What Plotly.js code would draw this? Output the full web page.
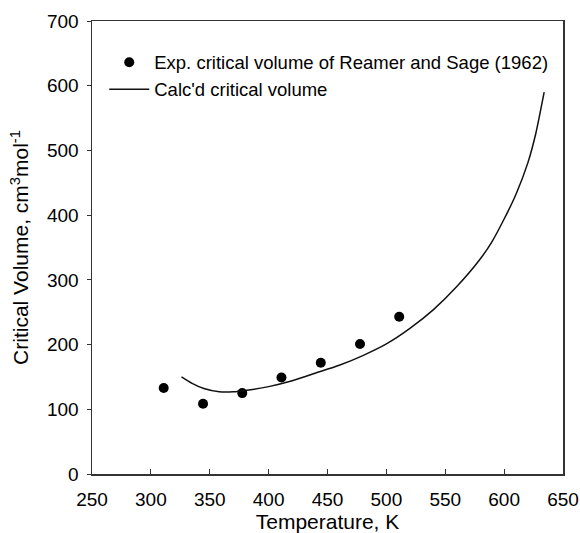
<!DOCTYPE html>
<html>
<head>
<meta charset="utf-8">
<script src="https://cdn.plot.ly/plotly-3.0.1.min.js"></script>
<style>html,body{margin:0;padding:0;background:#fff;}#chart{width:580px;height:533px;}</style>
</head>
<body>
<div id="chart"></div>
<script>
// Experimental critical volume (Reamer and Sage, 1962)
const expT = [310.9, 344.3, 377.6, 410.9, 444.3, 477.6, 510.9];
const expV = [133, 108.5, 125, 149, 172, 201, 243];

// Calculated critical volume curve
const calcT = [326, 335, 345, 358, 370, 380, 400, 420, 440, 460, 480, 500, 520, 540, 560, 580, 590, 600, 610, 620, 627, 634];
const calcV = [150, 140, 132, 127, 127, 129, 135, 144, 156, 168, 183, 201, 225, 254, 290, 333, 360, 394, 432, 480, 527, 590];

const xTicks = [250, 300, 350, 400, 450, 500, 550, 600, 650];
const yTicks = [0, 100, 200, 300, 400, 500, 600, 700];

const fontFam = 'Arial, "Liberation Sans", Helvetica, sans-serif';

const traces = [
  {
    x: expT, y: expV, type: 'scatter', mode: 'markers',
    name: 'Exp. critical volume of Reamer and Sage (1962)',
    marker: {color: '#000', size: 10, symbol: 'circle'}
  },
  {
    x: calcT, y: calcV, type: 'scatter', mode: 'lines',
    name: "Calc'd critical volume",
    line: {color: '#111', width: 1.5, shape: 'spline', smoothing: 0.6}
  }
];

const layout = {
  width: 580, height: 533,
  margin: {l: 92, r: 17, t: 21, b: 59},
  paper_bgcolor: '#fff', plot_bgcolor: '#fff',
  font: {family: fontFam, color: '#000', size: 19},
  showlegend: true,
  legend: {
    x: 0.026, y: 0.95, xanchor: 'left', yanchor: 'top',
    bgcolor: 'rgba(0,0,0,0)', borderwidth: 0,
    font: {family: fontFam, size: 18.5, color: '#000'},
    itemwidth: 40, tracegroupgap: 0
  },
  xaxis: {
    range: [250, 650], tickvals: xTicks, ticktext: xTicks.map(String),
    ticks: 'inside', ticklen: 5, tickwidth: 1, tickcolor: '#333',
    showline: true, linecolor: '#333', linewidth: 1.5, mirror: true,
    showgrid: false, zeroline: false,
    tickfont: {size: 19, family: fontFam, color: '#000'},
    ticklabelstandoff: 8,
    title: {text: 'Temperature, K', font: {size: 21, family: fontFam, color: '#000'}, standoff: 6}
  },
  yaxis: {
    range: [0, 700], tickvals: yTicks, ticktext: yTicks.map(String),
    ticks: 'outside', ticklen: 4, tickwidth: 1, tickcolor: '#333',
    showline: true, linecolor: '#333', linewidth: 1.5, mirror: true,
    showgrid: false, zeroline: false,
    tickfont: {size: 19, family: fontFam, color: '#000'},
    ticklabelstandoff: 4,
    title: {text: 'Critical Volume, cm<sup>3</sup>mol<sup>-1</sup>', font: {size: 21, family: fontFam, color: '#000'}, standoff: 12}
  }
};

Plotly.newPlot('chart', traces, layout, {displayModeBar: false, staticPlot: true});
</script>
</body>
</html>
